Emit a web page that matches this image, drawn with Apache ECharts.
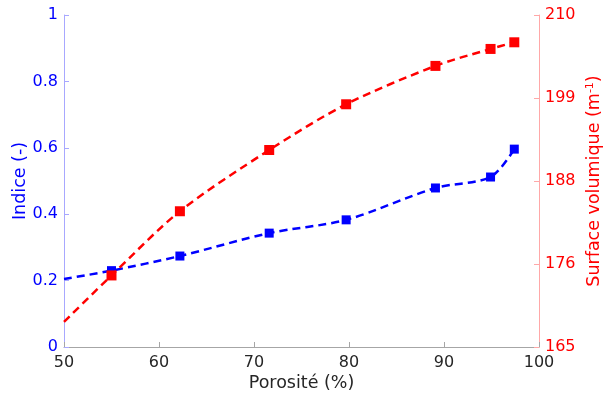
<!DOCTYPE html>
<html><head><meta charset="utf-8">
<script src="https://cdn.jsdelivr.net/npm/echarts@6/dist/echarts.min.js"></script>
<style>html,body{margin:0;padding:0;background:#fff}#c{width:608px;height:398px}</style>
</head><body><div id="c"></div>
<script>
const porosite = [55, 62.2, 71.6, 79.7, 89.1, 94.9, 97.4];
const indice = [0.23, 0.274, 0.343, 0.383, 0.479, 0.512, 0.596];
const surface = [174.7, 183.4, 191.7, 197.9, 203.1, 205.4, 206.3];
const curveStartX = 50;
const indiceStart = 0.205;
const surfaceStart = 168.4;
const rightTicks = [165, 176.25, 187.5, 198.75, 210];

const blueLine = [[curveStartX, indiceStart]].concat(porosite.map((x, i) => [x, indice[i]]));
const redLine = [[curveStartX, surfaceStart]].concat(porosite.map((x, i) => [x, surface[i]]));
const bluePts = porosite.map((x, i) => [x, indice[i]]);
const redPts = porosite.map((x, i) => [x, surface[i]]);

const FONT = 'DejaVu Sans';
const chart = echarts.init(document.getElementById('c'), null, {renderer: 'canvas'});
chart.setOption({
  animation: false,
  backgroundColor: '#fff',
  grid: {left: 64, right: 69, top: 15, bottom: 51, containLabel: false, outerBoundsMode: 'none'},
  xAxis: {
    type: 'value', min: 50, max: 100, interval: 10,
    name: 'Porosité (%)', nameLocation: 'middle', nameGap: 27, nameMoveOverlap: false,
    nameTextStyle: {color: '#262626', fontFamily: FONT, fontSize: 17.5},
    axisLine: {lineStyle: {color: '#a6a6a6', width: 1}},
    axisTick: {show: true, inside: true, length: 5, lineStyle: {color: '#a6a6a6'}},
    axisLabel: {color: '#262626', fontFamily: FONT, fontSize: 16, margin: 8},
    splitLine: {show: false}
  },
  yAxis: [{
    type: 'value', min: 0, max: 1, interval: 0.2, position: 'left',
    name: 'Indice (-)', nameLocation: 'middle', nameGap: 35, nameRotate: 90, nameMoveOverlap: false,
    nameTextStyle: {color: '#0000ff', fontFamily: FONT, fontSize: 17.5},
    axisLine: {show: true, lineStyle: {color: '#a8a8ff', width: 1}},
    axisTick: {show: true, inside: true, length: 5, lineStyle: {color: '#a8a8ff'}},
    axisLabel: {color: '#0000ff', fontFamily: FONT, fontSize: 16, margin: 6},
    splitLine: {show: false}
  }, {
    type: 'value', min: 165, max: 210, position: 'right',
    name: 'Surface volumique (m{sup|-1})', nameLocation: 'middle', nameGap: 46, nameRotate: 90, nameMoveOverlap: false,
    nameTextStyle: {color: '#ff0000', fontFamily: FONT, fontSize: 17.5,
      rich: {sup: {color: '#ff0000', fontFamily: FONT, fontSize: 11, verticalAlign: 'top', padding: [0, 0, 8, 0]}}},
    axisLine: {show: true, lineStyle: {color: '#ffa8a8', width: 1}},
    axisTick: {show: true, inside: true, length: 5, customValues: rightTicks, lineStyle: {color: '#ffa8a8'}},
    axisLabel: {color: '#ff0000', fontFamily: FONT, fontSize: 16, margin: 6, customValues: rightTicks,
      formatter: v => String(Math.round(v))},
    splitLine: {show: false}
  }],
  series: [{
    type: 'line', yAxisIndex: 0, data: blueLine, smooth: 0.3, showSymbol: false,
    lineStyle: {color: '#0000ff', width: 2.5, type: [8, 5]}, z: 2
  }, {
    type: 'scatter', yAxisIndex: 0, data: bluePts, symbol: 'rect', symbolSize: 9,
    itemStyle: {color: '#0000ff', opacity: 1}, z: 3
  }, {
    type: 'line', yAxisIndex: 1, data: redLine, smooth: 0.3, showSymbol: false,
    lineStyle: {color: '#ff0000', width: 2.5, type: [8, 5]}, z: 4
  }, {
    type: 'scatter', yAxisIndex: 1, data: redPts, symbol: 'rect', symbolSize: 10,
    itemStyle: {color: '#ff0000', opacity: 1}, z: 5
  }]
});
</script></body></html>
